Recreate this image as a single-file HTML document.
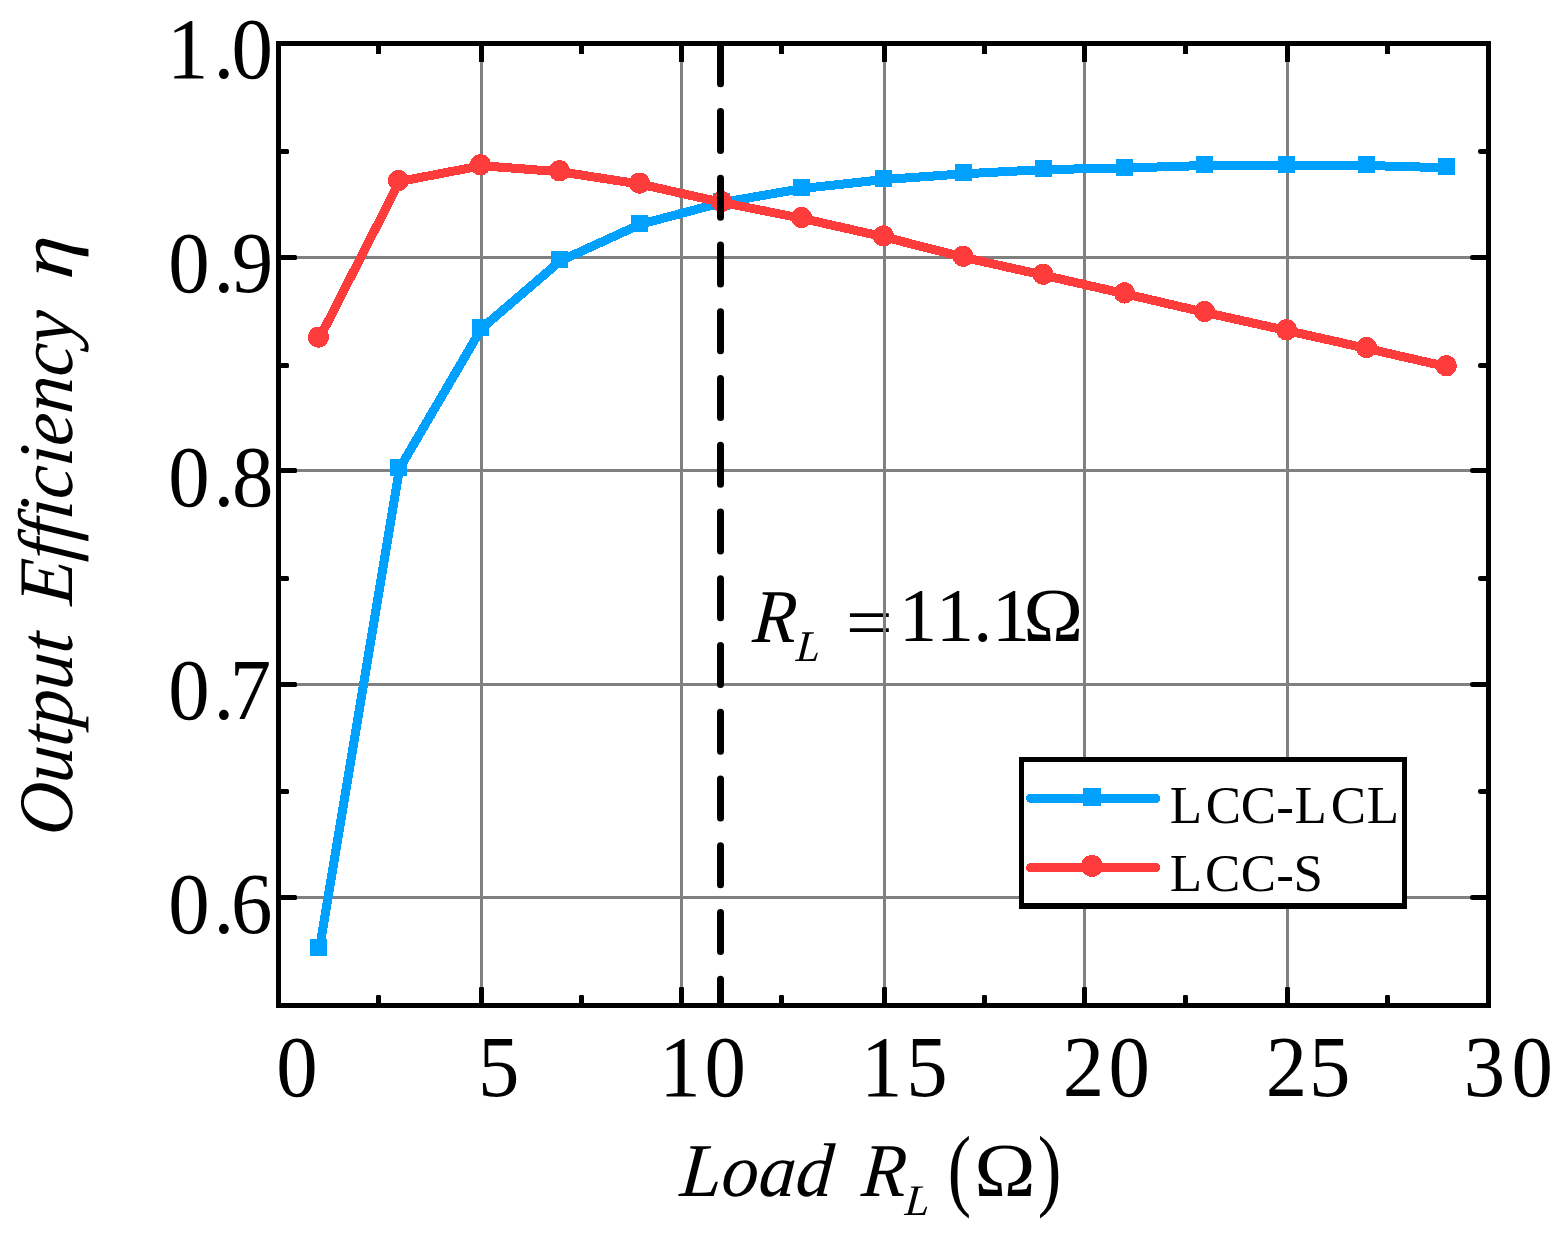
<!DOCTYPE html>
<html lang="en"><head><meta charset="utf-8"><title>Output Efficiency vs Load</title>
<style>html,body{margin:0;padding:0;background:#fff}body{width:1564px;height:1240px;overflow:hidden}svg{display:block}text{font-family:"Liberation Serif","DejaVu Serif",serif;fill:#000}.i{font-style:italic}</style>
</head><body>
<svg width="1564" height="1240" viewBox="0 0 1564 1240">
<rect width="1564" height="1240" fill="#fff"/>
<text class="i" transform="translate(751.87,642.00) scale(0.9361,1.0000) skewX(-4.5)" font-size="76">R</text>
<text class="i" transform="translate(795.59,661.00) scale(0.9745,1.0000) skewX(-4.5)" font-size="43.8">L</text>
<text transform="translate(845.82,646.90) scale(1.1143,1.0000)" font-size="75">=</text>
<text x="898.9 936.1 973.2 991.9" y="641.3" font-size="76">11.1</text>
<text transform="translate(1023.35,641.30) scale(1.0619,1.0000)" font-size="76">Ω</text>
<g stroke="#808080" stroke-width="3" fill="none" shape-rendering="crispEdges">
<line x1="481.5" y1="43.5" x2="481.5" y2="1005.5"/>
<line x1="681.5" y1="43.5" x2="681.5" y2="1005.5"/>
<line x1="884.5" y1="43.5" x2="884.5" y2="1005.5"/>
<line x1="1084.5" y1="43.5" x2="1084.5" y2="1005.5"/>
<line x1="1287.5" y1="43.5" x2="1287.5" y2="1005.5"/>
<line x1="278.5" y1="257.5" x2="1488.5" y2="257.5"/>
<line x1="278.5" y1="470.5" x2="1488.5" y2="470.5"/>
<line x1="278.5" y1="684.5" x2="1488.5" y2="684.5"/>
<line x1="278.5" y1="897.5" x2="1488.5" y2="897.5"/>
</g>
<polyline points="319.5,948.5 399.5,468.5 481.5,328.5 560.5,260.8 640.5,224.2 722.5,202.5 802.5,188.5 884.5,179.5 964.2,173.8 1044.2,169.6 1125.5,168.0 1205.5,165.5 1287.5,165.5 1367.5,165.5 1447.3,167.8" fill="none" stroke="#00a0ff" stroke-width="9" stroke-linejoin="round" stroke-linecap="round" shape-rendering="crispEdges"/>
<g fill="#00a0ff" shape-rendering="crispEdges">
<rect x="310.0" y="939.0" width="17" height="17"/>
<rect x="390.0" y="459.0" width="17" height="17"/>
<rect x="472.0" y="319.0" width="17" height="17"/>
<rect x="551.0" y="251.3" width="17" height="17"/>
<rect x="631.0" y="214.7" width="17" height="17"/>
<rect x="713.0" y="193.0" width="17" height="17"/>
<rect x="793.0" y="179.0" width="17" height="17"/>
<rect x="875.0" y="170.0" width="17" height="17"/>
<rect x="954.7" y="164.3" width="17" height="17"/>
<rect x="1034.7" y="160.1" width="17" height="17"/>
<rect x="1116.0" y="158.5" width="17" height="17"/>
<rect x="1196.0" y="156.0" width="17" height="17"/>
<rect x="1278.0" y="156.0" width="17" height="17"/>
<rect x="1358.0" y="156.0" width="17" height="17"/>
<rect x="1437.8" y="158.3" width="17" height="17"/>
</g>
<polyline points="319.5,338.2 399.5,181.5 481.5,165.7 560.5,171.8 640.5,184.2 722.5,202.5 802.5,218.5 884.5,237.0 964.2,257.4 1044.2,275.4 1125.5,293.9 1205.5,312.5 1287.5,330.7 1367.5,348.6 1447.3,366.8" fill="none" stroke="#ff3c3c" stroke-width="9" stroke-linejoin="round" stroke-linecap="round" shape-rendering="crispEdges"/>
<g fill="#ff3c3c" shape-rendering="crispEdges">
<circle cx="318.5" cy="337.2" r="10.6"/>
<circle cx="398.5" cy="180.5" r="10.6"/>
<circle cx="480.5" cy="164.7" r="10.6"/>
<circle cx="559.5" cy="170.8" r="10.6"/>
<circle cx="639.5" cy="183.2" r="10.6"/>
<circle cx="721.5" cy="201.5" r="10.6"/>
<circle cx="801.5" cy="217.5" r="10.6"/>
<circle cx="883.5" cy="236.0" r="10.6"/>
<circle cx="963.2" cy="256.4" r="10.6"/>
<circle cx="1043.2" cy="274.4" r="10.6"/>
<circle cx="1124.5" cy="292.9" r="10.6"/>
<circle cx="1204.5" cy="311.5" r="10.6"/>
<circle cx="1286.5" cy="329.7" r="10.6"/>
<circle cx="1366.5" cy="347.6" r="10.6"/>
<circle cx="1446.3" cy="365.8" r="10.6"/>
</g>
<line x1="720.5" y1="44.65" x2="720.5" y2="1003" stroke="#000" stroke-width="7" stroke-linecap="round" stroke-dasharray="39 27.75"/>
<g fill="#000">
<rect x="479.0" y="987.0" width="5" height="18.0" rx="1.2"/>
<rect x="479.0" y="44.0" width="5" height="18.0"/>
<rect x="679.0" y="987.0" width="5" height="18.0" rx="1.2"/>
<rect x="679.0" y="44.0" width="5" height="18.0"/>
<rect x="882.0" y="987.0" width="5" height="18.0" rx="1.2"/>
<rect x="882.0" y="44.0" width="5" height="18.0"/>
<rect x="1082.0" y="987.0" width="5" height="18.0" rx="1.2"/>
<rect x="1082.0" y="44.0" width="5" height="18.0"/>
<rect x="1285.0" y="987.0" width="5" height="18.0" rx="1.2"/>
<rect x="1285.0" y="44.0" width="5" height="18.0"/>
<rect x="376.0" y="995.0" width="5" height="10.0" rx="1.2"/>
<rect x="376.0" y="44.0" width="5" height="10.0"/>
<rect x="579.0" y="995.0" width="5" height="10.0" rx="1.2"/>
<rect x="579.0" y="44.0" width="5" height="10.0"/>
<rect x="779.0" y="995.0" width="5" height="10.0" rx="1.2"/>
<rect x="779.0" y="44.0" width="5" height="10.0"/>
<rect x="982.0" y="995.0" width="5" height="10.0" rx="1.2"/>
<rect x="982.0" y="44.0" width="5" height="10.0"/>
<rect x="1183.0" y="995.0" width="5" height="10.0" rx="1.2"/>
<rect x="1183.0" y="44.0" width="5" height="10.0"/>
<rect x="1385.0" y="995.0" width="5" height="10.0" rx="1.2"/>
<rect x="1385.0" y="44.0" width="5" height="10.0"/>
<rect x="279.0" y="255.0" width="18.0" height="5" rx="1.5"/>
<rect x="1470.0" y="255.0" width="18.0" height="5" rx="2.2"/>
<rect x="279.0" y="468.0" width="18.0" height="5" rx="1.5"/>
<rect x="1470.0" y="468.0" width="18.0" height="5" rx="2.2"/>
<rect x="279.0" y="682.0" width="18.0" height="5" rx="1.5"/>
<rect x="1470.0" y="682.0" width="18.0" height="5" rx="2.2"/>
<rect x="279.0" y="895.0" width="18.0" height="5" rx="1.5"/>
<rect x="1470.0" y="895.0" width="18.0" height="5" rx="2.2"/>
<rect x="279.0" y="149.0" width="10.0" height="5" rx="1.5"/>
<rect x="1478.0" y="149.0" width="10.0" height="5" rx="2.2"/>
<rect x="279.0" y="363.0" width="10.0" height="5" rx="1.5"/>
<rect x="1478.0" y="363.0" width="10.0" height="5" rx="2.2"/>
<rect x="279.0" y="576.0" width="10.0" height="5" rx="1.5"/>
<rect x="1478.0" y="576.0" width="10.0" height="5" rx="2.2"/>
<rect x="279.0" y="789.0" width="10.0" height="5" rx="1.5"/>
<rect x="1478.0" y="789.0" width="10.0" height="5" rx="2.2"/>
</g>
<rect x="278.5" y="43.5" width="1210.0" height="962.0" fill="none" stroke="#000" stroke-width="5" shape-rendering="crispEdges"/>
<rect x="1019" y="757" width="388" height="152" fill="#000" shape-rendering="crispEdges"/>
<rect x="1024" y="762" width="378" height="141" fill="#fff" shape-rendering="crispEdges"/>
<line x1="1030.5" y1="798.4" x2="1156" y2="798.4" stroke="#00a0ff" stroke-width="9" stroke-linecap="round" shape-rendering="crispEdges"/>
<rect x="1083" y="788" width="18" height="18" fill="#00a0ff" shape-rendering="crispEdges"/>
<line x1="1030.5" y1="867.6" x2="1156" y2="867.6" stroke="#ff3c3c" stroke-width="9" stroke-linecap="round" shape-rendering="crispEdges"/>
<circle cx="1092" cy="866" r="11" fill="#ff3c3c" shape-rendering="crispEdges"/>
<text x="1169.7 1205.7 1240.8 1276.2 1294.6 1330.8 1366.8" y="822.7 822.7 822.7 823.6 822.7 822.7 822.7" font-size="52.9">LCC-LCL</text>
<text x="1169.7 1205.0 1240.7 1276.2 1293.4" y="890.7 890.7 890.7 891.6 890.7" font-size="52.9">LCC-S</text>
<text transform="scale(0.96,1)" x="174.0 222.5 241.1" y="77.9" font-size="86.3">1.0</text>
<text transform="scale(0.96,1)" x="175.2 222.5 241.5" y="291.8" font-size="86.3">0.9</text>
<text transform="scale(0.96,1)" x="175.2 222.5 241.6" y="505.8" font-size="86.3">0.8</text>
<text transform="scale(0.96,1)" x="175.2 222.5 239.4" y="718.8" font-size="86.3">0.7</text>
<text transform="scale(0.96,1)" x="175.2 222.5 240.5" y="932.8" font-size="86.3">0.6</text>
<text transform="scale(0.96,1)" x="287.8" y="1095.7" font-size="86.3">0</text>
<text transform="scale(0.96,1)" x="497.9" y="1095.7" font-size="86.3">5</text>
<text transform="scale(0.96,1)" x="686.6 733.8" y="1095.7" font-size="86.3">10</text>
<text transform="scale(0.96,1)" x="897.0 943.9" y="1095.7" font-size="86.3">15</text>
<text transform="scale(0.96,1)" x="1107.0 1154.6" y="1095.7" font-size="86.3">20</text>
<text transform="scale(0.96,1)" x="1318.5 1363.6" y="1095.7" font-size="86.3">25</text>
<text transform="scale(0.96,1)" x="1524.8 1574.4" y="1095.7" font-size="86.3">30</text>
<text class="i" transform="translate(679.03,1195.90) scale(0.9774,1.0000) skewX(-4.5)" font-size="76">Load</text>
<text class="i" transform="translate(860.48,1195.90) scale(0.9571,1.0000) skewX(-4.5)" font-size="76">R</text>
<text class="i" transform="translate(904.30,1214.70) scale(1.0065,1.0000) skewX(-4.5)" font-size="43.7">L</text>
<text transform="translate(947.80,1199.46) scale(0.9231,1.2088)" font-size="76">(</text>
<text transform="translate(974.35,1195.90) scale(1.0866,1.0000)" font-size="76">Ω</text>
<text transform="translate(1037.67,1199.46) scale(0.9333,1.2088)" font-size="76">)</text>
<text class="i" transform="translate(71.80,836.45) rotate(-90) scale(0.9438,1.0000) skewX(-4.5)" font-size="77.2">Output</text>
<text class="i" transform="translate(71.80,606.09) rotate(-90) scale(0.9519,1.0000) skewX(-4.5)" font-size="77.2">Efficiency</text>
<text class="i" transform="translate(71.80,280.04) rotate(-90) scale(1.1072,1.0000) skewX(-4.5)" font-size="77.2">η</text>
</svg>
</body></html>
